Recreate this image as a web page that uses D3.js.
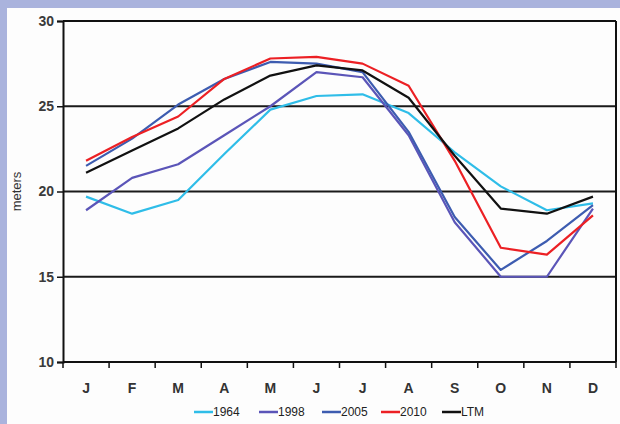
<!DOCTYPE html>
<html>
<head>
<meta charset="utf-8">
<script src="https://cdn.jsdelivr.net/npm/d3@7"></script>
<style>
  body { margin: 0; background: #aab3dd; }
  svg { display: block; }
</style>
</head>
<body>
<svg id="chart"></svg>
<script>
// month labels and the yearly series (meters)
var months = ["J", "F", "M", "A", "M", "J", "J", "A", "S", "O", "N", "D"];
var yTicks = [10, 15, 20, 25, 30];
var s1964 = [19.7, 18.7, 19.5, 22.2, 24.8, 25.6, 25.7, 24.6, 22.3, 20.3, 18.9, 19.3];
var s1998 = [18.9, 20.8, 21.6, 23.3, 25.0, 27.0, 26.7, 23.3, 18.2, 15.0, 15.0, 19.0];
var s2005 = [21.5, 23.1, 25.1, 26.6, 27.6, 27.5, 27.0, 23.5, 18.5, 15.4, 17.1, 19.2];
var s2010 = [21.8, 23.2, 24.4, 26.6, 27.8, 27.9, 27.5, 26.2, 21.8, 16.7, 16.3, 18.6];
var ltm   = [21.1, 22.4, 23.7, 25.4, 26.8, 27.4, 27.1, 25.5, 22.1, 19.0, 18.7, 19.7];

var series = [
  {name: "1964", values: s1964, color: "#2fbde8"},
  {name: "1998", values: s1998, color: "#5b55b8"},
  {name: "2005", values: s2005, color: "#3d5cb0"},
  {name: "2010", values: s2010, color: "#ec2024"},
  {name: "LTM",  values: ltm,   color: "#111111"}
];

var W = 620, H = 424,
    margin = {top: 21, right: 4, bottom: 62, left: 63},
    width = W - margin.left - margin.right,
    height = H - margin.top - margin.bottom;

var svg = d3.select("#chart").attr("width", W).attr("height", H);

// white panel over the lavender frame
svg.append("rect")
    .attr("x", 7).attr("y", 8)
    .attr("width", W - 7).attr("height", H - 8)
    .attr("fill", "#fdfdfd");

var g = svg.append("g").attr("transform", "translate(" + margin.left + "," + margin.top + ")");

var x = d3.scaleBand().domain(d3.range(12)).range([0, width]);
var y = d3.scaleLinear().domain([10, 30]).range([height, 0]);

// horizontal grid
g.selectAll(".grid")
  .data([15, 20, 25])
  .enter().append("line")
    .attr("x1", 0).attr("x2", width)
    .attr("y1", function(d) { return y(d); })
    .attr("y2", function(d) { return y(d); })
    .attr("stroke", "#1a1a1a")
    .attr("stroke-width", 2);

// y axis
var yAxis = d3.axisLeft(y).tickValues(yTicks).tickSize(6).tickPadding(3);
var yG = g.append("g").call(yAxis);
yG.select(".domain").attr("stroke", "#111").attr("stroke-width", 2);
yG.selectAll(".tick line").attr("stroke", "#111").attr("stroke-width", 1.5);
yG.selectAll(".tick text")
    .style("font", "bold 14px 'Liberation Sans', Arial, sans-serif")
    .attr("fill", "#3a3a3a");

// x axis: ticks on band boundaries, labels in band centres
var xG = g.append("g").attr("transform", "translate(0," + height + ")");
xG.append("line")
    .attr("x1", 0).attr("x2", width)
    .attr("stroke", "#111").attr("stroke-width", 2);
xG.selectAll(".xt")
  .data(d3.range(13))
  .enter().append("line")
    .attr("x1", function(d) { return d * x.step(); })
    .attr("x2", function(d) { return d * x.step(); })
    .attr("y1", 0).attr("y2", 6)
    .attr("stroke", "#111").attr("stroke-width", 1.5);
xG.selectAll(".xl")
  .data(months)
  .enter().append("text")
    .attr("x", function(d, i) { return x(i) + x.bandwidth() / 2; })
    .attr("y", 31)
    .attr("text-anchor", "middle")
    .style("font", "bold 14px 'Liberation Sans', Arial, sans-serif")
    .attr("fill", "#333")
    .text(function(d) { return d; });

// top and right frame
g.append("line").attr("x1", 0).attr("x2", width).attr("y1", 0).attr("y2", 0)
    .attr("stroke", "#111").attr("stroke-width", 2);
g.append("line").attr("x1", width).attr("x2", width).attr("y1", 0).attr("y2", height)
    .attr("stroke", "#111").attr("stroke-width", 2);

// y label
svg.append("text")
    .attr("transform", "translate(21," + (margin.top + y(20)) + ") rotate(-90)")
    .attr("text-anchor", "middle")
    .style("font", "13px 'Liberation Sans', Arial, sans-serif")
    .attr("fill", "#333")
    .text("meters");

var line = d3.line()
    .x(function(d, i) { return x(i) + x.bandwidth() / 2; })
    .y(function(d) { return y(d); });

g.selectAll(".series")
  .data(series)
  .enter().append("path")
    .attr("fill", "none")
    .attr("stroke", function(d) { return d.color; })
    .attr("stroke-width", 2.2)
    .attr("stroke-linejoin", "round")
    .attr("d", function(d) { return line(d.values); });

// legend
var legX = [194, 259, 322, 381, 442];
var leg = svg.selectAll(".leg")
  .data(series)
  .enter().append("g")
    .attr("transform", function(d, i) { return "translate(" + legX[i] + ",412)"; });
leg.append("line")
    .attr("x1", 0).attr("x2", 19)
    .attr("stroke", function(d) { return d.color; })
    .attr("stroke-width", 2.5);
leg.append("text")
    .attr("x", 19).attr("dy", "0.35em")
    .style("font", "12px 'Liberation Sans', Arial, sans-serif")
    .attr("fill", "#222")
    .text(function(d) { return d.name; });
</script>
</body>
</html>
